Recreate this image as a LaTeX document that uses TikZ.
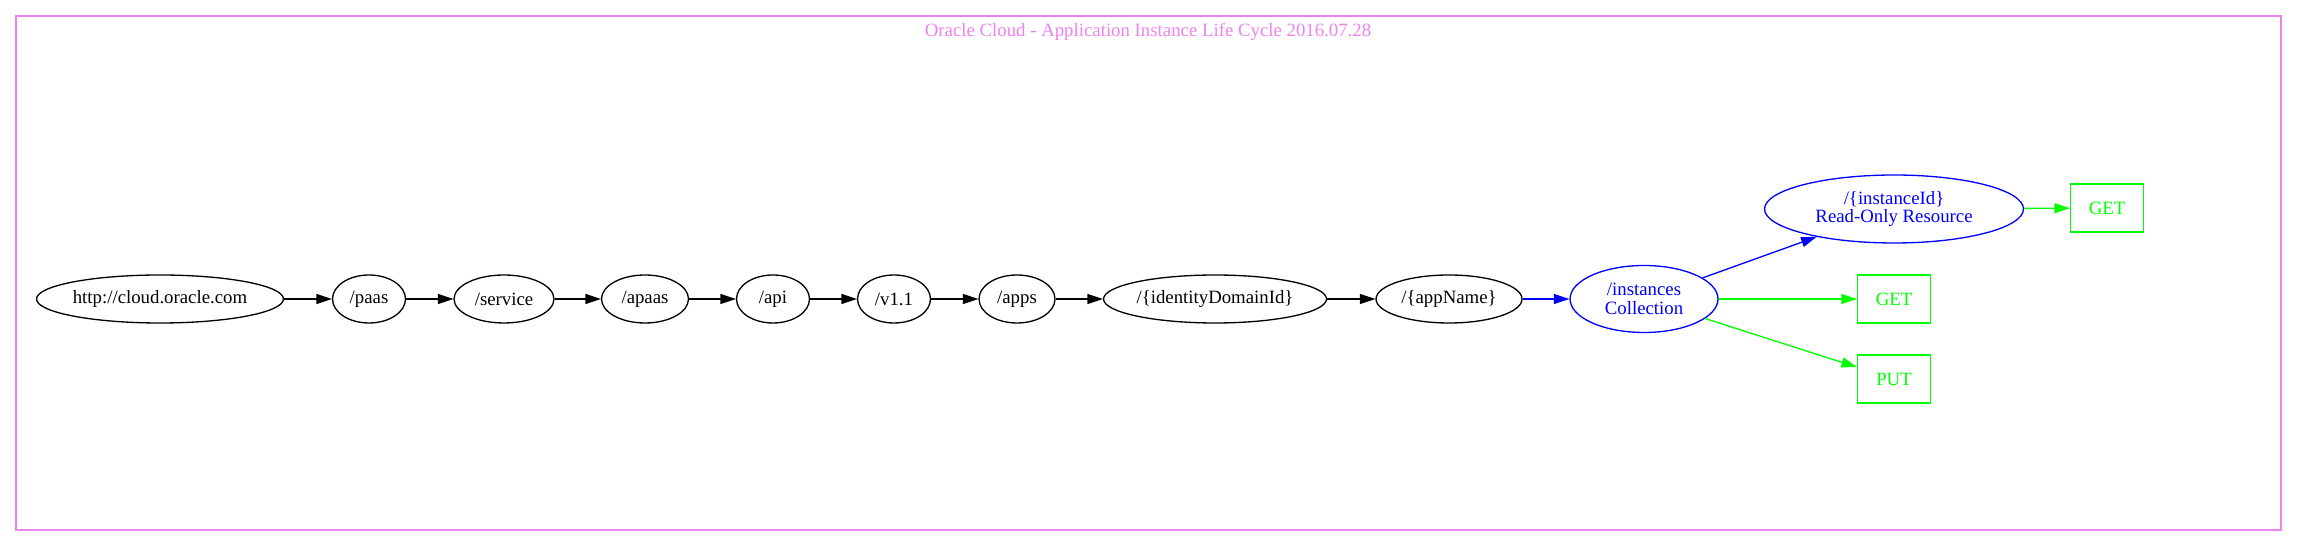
\documentclass[tikz,border=0pt]{standalone}
\usepackage{fontspec}
\setmainfont{Liberation Serif}
\usetikzlibrary{arrows.meta, positioning, shapes.geometric}
\definecolor{gvviolet}{HTML}{EE82EE}
\definecolor{gvblue}{HTML}{0000FF}
\definecolor{gvgreen}{HTML}{00FF00}

\begin{document}
\begin{tikzpicture}[x=0.02cm, y=0.02cm, line width=0.75pt,
		every node/.style={font=\fontsize{10.7}{10.5}\selectfont, inner sep=0pt},
		res/.style={ellipse, draw, minimum height=0.96cm},
		coll/.style={res, draw=gvblue, text=gvblue, align=center},
		meth/.style={rectangle, draw=gvgreen, text=gvgreen, minimum width=1.46cm, minimum height=0.96cm},
		>={Triangle[length=0.31cm, width=0.2cm]}]
	\useasboundingbox (0,0) rectangle (2297,547);
		\draw[gvviolet] (16,17) rectangle (2281,531);
		\node[text=gvviolet, anchor=base] (title) at (1148,510) {Oracle Cloud - Application Instance Life Cycle 2016.07.28};

		\node[res, minimum width=4.94cm] (root) at (160,248) {http://cloud.oracle.com};
		\node[res, minimum width=1.46cm] (paas) at (369,248) {/paas};
		\node[res, minimum width=2.00cm] (service) at (504,248) {/service};
		\node[res, minimum width=1.74cm] (apaas) at (645,248) {/apaas};
		\node[res, minimum width=1.46cm] (api) at (773,248) {/api};
		\node[res, minimum width=1.46cm] (ver) at (894,248) {/v1.1};
		\node[res, minimum width=1.52cm] (apps) at (1017,248) {/apps};
		\node[res, minimum width=4.46cm] (domain) at (1215,248) {/\{identityDomainId\}};
		\node[res, minimum width=2.92cm] (app) at (1449,248) {/\{appName\}};

		\node[coll, minimum width=2.96cm, minimum height=1.34cm] (inst) at (1644,248) {/instances\\Collection};
		\node[coll, minimum width=5.18cm, minimum height=1.36cm] (iid) at (1894,338) {/\{instanceId\}\\Read-Only Resource};

		\node[meth] (iidget) at (2107,339) {GET};
		\node[meth] (instget) at (1894,248) {GET};
		\node[meth] (instput) at (1894,168) {PUT};

		\draw[->] (root) -- (paas);
		\draw[->] (paas) -- (service);
		\draw[->] (service) -- (apaas);
		\draw[->] (apaas) -- (api);
		\draw[->] (api) -- (ver);
		\draw[->] (ver) -- (apps);
		\draw[->] (apps) -- (domain);
		\draw[->] (domain) -- (app);
		\draw[->, gvblue] (app) -- (inst);
		\draw[->, gvblue] (inst) -- (iid);
		\draw[->, gvgreen] (inst) -- (instget);
		\draw[->, gvgreen] (inst) -- (instput);
		\draw[->, gvgreen] (iid) -- (iidget);

	\end{tikzpicture}
\end{document}
